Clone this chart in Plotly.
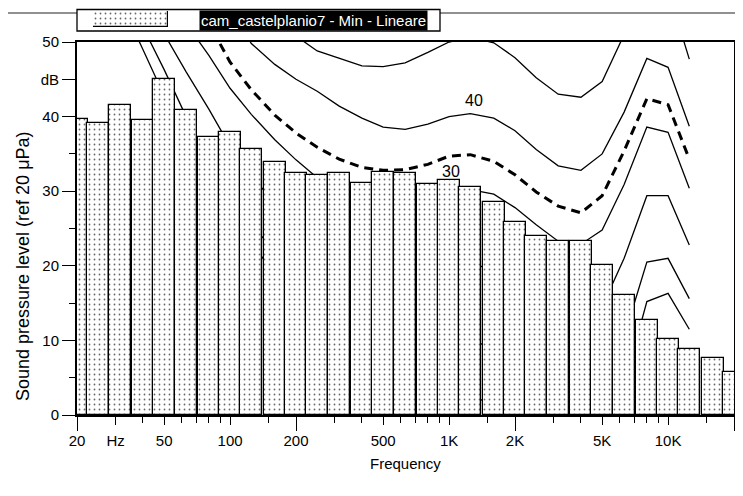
import math
import plotly.graph_objects as go

# ---------------- data ----------------
band_hz = [20, 25, 31.5, 40, 50, 63, 80, 100, 125, 160, 200, 250, 315, 400, 500, 630,
           800, 1000, 1250, 1600, 2000, 2500, 3150, 4000, 5000, 6300, 8000, 10000,
           12500, 16000, 20000]
spl_db = [39.7, 39.1, 41.5, 39.6, 45.0, 40.9, 37.3, 38.0, 35.7, 33.9, 32.4, 32.2, 32.5,
          31.1, 32.6, 32.4, 31.0, 31.5, 30.5, 28.5, 25.9, 24.0, 23.3, 23.3, 20.1, 16.1,
          12.7, 10.2, 8.8, 7.6, 5.8]

contour_hz = [20, 25, 31.5, 40, 50, 63, 80, 100, 125, 160, 200, 250, 315, 400, 500, 630,
              800, 1000, 1250, 1600, 2000, 2500, 3150, 4000, 5000, 6300, 8000, 10000, 12500]
phon_0 = [70, 63, 55.5, 49.0, 42.8, 37.0, 31.5, 27, 23, 19, 16, 13, 10.5, 8, 6, 5,
          4, 3, 2.5, 1.5, 0, -1.5, -3, -3, -2, 4, 15.2, 16.3, 11.5]
phon_10 = [72, 66, 59, 52, 46.3, 40.0, 34, 29.5, 25.5, 22, 19.5, 17, 15, 13.5, 12.5, 11.5,
           11, 10, 10, 9, 7.5, 5.5, 3.5, 3, 4.5, 10.5, 20.5, 21, 15.6]
phon_20 = [75, 70, 65, 56, 51, 46.0, 41, 36, 32, 28.5, 26, 24, 22.5, 21, 20.5, 20,
           20, 20, 20.3, 19.5, 17.5, 15.5, 13.5, 13, 14.5, 21, 29.4, 29.4, 22.8]
phon_30 = [80, 75, 70, 64, 58.5, 52.5, 48.2, 43.8, 40.3, 36.9, 34.2, 31.8, 30.3, 29, 28.5, 28.5,
           29.2, 30, 30.2, 29.6, 27.8, 25.5, 23.3, 22.9, 24.8, 30.9, 38.6, 37.9, 30.4]
loudness_min = [85, 80, 75, 70, 65, 57.5, 52.5, 47.3, 43.6, 40.2, 37.8, 35.9, 34.3, 33.2, 32.8, 32.9,
                33.6, 34.7, 34.9, 34.0, 32.2, 29.9, 28.0, 27.1, 29.4, 35.4, 42.4, 41.6, 34.3]
phon_40 = [95, 90, 84, 77, 70, 64.5, 59.5, 54.5, 49.8, 47.0, 45.0, 43.4, 41.4, 39.8, 38.6, 38.3,
           39.0, 40.0, 40.4, 39.8, 38.1, 35.6, 33.4, 32.8, 35.0, 40.6, 47.8, 46.6, 38.7]
phon_50 = [100, 96, 92, 87, 81, 75, 69, 64, 59, 54, 50.8, 48.8, 47.8, 46.8, 46.7, 47.2,
           48.6, 50, 50.6, 49.9, 47.9, 45.2, 43.0, 42.6, 44.7, 51, 58, 57, 47.7]

contour_labels = ["40", "30"]
contour_label_hz = [1306, 1016]
contour_label_db = [42.2, 32.6]

legend_name = "cam_castelplanio7 - Min - Lineare"

x_tick_hz = [20, 30, 50, 100, 200, 500, 1000, 2000, 5000, 10000, 20000]
x_tick_text = ["20", "Hz", "50", "100", "200", "500", "1K", "2K", "5K", "10K", ""]
x_minor_hz = [40, 60, 70, 80, 90, 150, 300, 400, 600, 700, 800, 900, 1500, 3000, 4000,
              6000, 7000, 8000, 9000, 15000]
x_long_hz = [20, 200, 2000, 20000]
y_tick_vals = [0, 10, 20, 30, 40, 45, 50]
y_tick_text = ["0", "10", "20", "30", "40", "dB", "50"]
y_minor_vals = [5, 15, 25, 35]

# ---------------- figure ----------------
lg = math.log10
FONT = "Liberation Sans, Arial, Helvetica, sans-serif"
OFF = 8                      # page body margin offset
W, H = 743 - 2 * OFF, 496 - 2 * OFF
# target positions (window pixels): plot x 77..734, y 42 (50 dB) .. 415 (0 dB)
ML = 77 - OFF
MR = W - (734 - OFF)
MT = 1
MB = H - (415 - OFF)
PW = W - ML - MR
PH = H - MT - MB
Y_TOP = (415 - 42) / PH

def py(px):  # window pixel y -> paper y
    return (415 - px) / PH

def pxx(px):  # window pixel x -> paper x
    return (px - 77) / PW

xr = [lg(20), lg(20000)]
fig = go.Figure()

solid = dict(color="black", width=1.3)
for vals in [phon_0, phon_10, phon_20, phon_30, phon_40, phon_50]:
    fig.add_trace(go.Scatter(x=[lg(f) for f in contour_hz], y=vals, mode="lines",
                             line=solid, xaxis="x", yaxis="y", hoverinfo="skip"))
fig.add_trace(go.Scatter(x=[lg(f) for f in contour_hz], y=loudness_min, mode="lines",
                         line=dict(color="black", width=3, dash="9px,6px"),
                         xaxis="x", yaxis="y", hoverinfo="skip"))

pattern = dict(shape=".", fgcolor="#666666", bgcolor="white", size=5, solidity=0.1)
fig.add_trace(go.Bar(x=[lg(f) for f in band_hz], y=spl_db, width=0.1,
                     marker=dict(color="white", line=dict(color="black", width=1.3),
                                 pattern=pattern),
                     xaxis="x2", yaxis="y2", name=legend_name))

# legend swatch
fig.add_trace(go.Bar(x=[0.5], y=[1], width=1,
                     marker=dict(color="white", line=dict(color="black", width=1.2),
                                 pattern=pattern),
                     xaxis="x3", yaxis="y3"))

tickfont = dict(family=FONT, size=15, color="black")
fig.update_layout(
    template="none",
    width=W, height=H, margin=dict(l=ML, r=MR, t=MT, b=MB, autoexpand=False),
    paper_bgcolor="white", plot_bgcolor="white", showlegend=False, bargap=0,
    font=dict(family=FONT, color="black"),
    xaxis=dict(range=xr, domain=[0, 1], anchor="y", tickmode="array", automargin=False,
               tickvals=[lg(f) for f in x_tick_hz], ticktext=x_tick_text,
               ticks="outside", ticklen=8, tickwidth=1.2, tickcolor="black",
               ticklabelstandoff=3,
               showline=True, linewidth=2, linecolor="black", mirror=True,
               showgrid=False, zeroline=False, tickfont=tickfont,
               minor=dict(tickmode="array", tickvals=[lg(f) for f in x_minor_hz],
                          ticks="outside", ticklen=6, tickwidth=1.1, tickcolor="black",
                          showgrid=False)),
    yaxis=dict(range=[0, 50], domain=[0, Y_TOP], anchor="x", tickmode="array",
               automargin=False,
               tickvals=y_tick_vals, ticktext=y_tick_text,
               ticks="outside", ticklen=13, tickwidth=1.2, tickcolor="black",
               showline=True, linewidth=2, linecolor="black", mirror=True,
               showgrid=False, zeroline=False, tickfont=tickfont,
               minor=dict(tickmode="array", tickvals=y_minor_vals, ticks="outside",
                          ticklen=6, tickwidth=1.1, tickcolor="black", showgrid=False)),
    xaxis2=dict(range=xr, overlaying="x", anchor="y2", side="bottom", automargin=False,
                tickmode="array", tickvals=[lg(f) for f in x_long_hz],
                ticks="outside", ticklen=15, tickwidth=1.3, tickcolor="black",
                showticklabels=False, showline=False, showgrid=False, zeroline=False),
    yaxis2=dict(range=[0, 50], domain=[0, Y_TOP], overlaying="y", anchor="x2",
                visible=False, automargin=False),
    xaxis3=dict(domain=[pxx(93), pxx(168)], range=[0, 1], anchor="y3", visible=False,
                automargin=False),
    yaxis3=dict(domain=[py(27), py(11)], range=[0, 1], anchor="x3", visible=False,
                automargin=False),
)

# page edge line and legend box
fig.add_shape(type="line", xref="paper", yref="paper", x0=pxx(OFF), x1=pxx(743 - OFF),
              y0=py(13), y1=py(13), line=dict(color="#222", width=1.2), layer="below")
fig.add_shape(type="rect", xref="paper", yref="paper", x0=pxx(77), x1=pxx(440),
              y0=py(31), y1=py(9.5), line=dict(color="black", width=1.3),
              fillcolor="white", layer="below")

fig.add_annotation(text=legend_name, xref="paper", yref="paper", x=pxx(313), y=py(20),
                   xanchor="center", yanchor="middle",
                   showarrow=False, bgcolor="black", borderpad=1,
                   font=dict(family=FONT, size=15, color="white"))

for t, f, d in zip(contour_labels, contour_label_hz, contour_label_db):
    fig.add_annotation(text=t, x=lg(f), y=d, xref="x", yref="y", showarrow=False,
                       xanchor="center", yanchor="middle",
                       font=dict(family=FONT, size=16, color="black"))

fig.add_annotation(text="Sound pressure level (ref 20 \u03bcPa)", xref="paper", yref="paper",
                   x=pxx(23), y=py(266), textangle=-90, showarrow=False,
                   xanchor="center", yanchor="middle",
                   font=dict(family=FONT, size=18, color="black"))
fig.add_annotation(text="Frequency", xref="paper", yref="paper", x=0.5, y=py(463),
                   xanchor="center", yanchor="middle",
                   showarrow=False, font=dict(family=FONT, size=15, color="black"))

fig.write_html("out.html")
